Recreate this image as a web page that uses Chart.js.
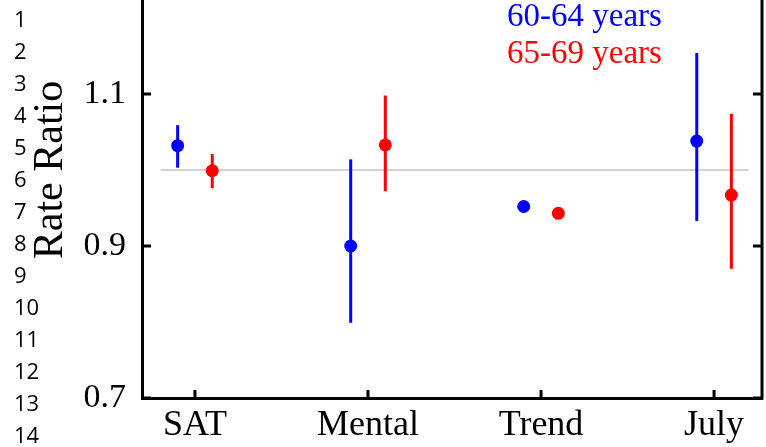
<!DOCTYPE html>
<html>
<head>
<meta charset="utf-8">
<script src="https://cdn.jsdelivr.net/npm/chart.js@4/dist/chart.umd.min.js"></script>
<style>
  html, body { margin: 0; padding: 0; background: #fff; }
  #wrap { position: relative; width: 766px; height: 447px; overflow: hidden; }
  #rr { position: absolute; left: 0; top: -58px; }
</style>
</head>
<body>
<div id="wrap"><canvas id="rr" width="766" height="505"></canvas></div>
<script>
// categories and groups
const categories = ['SAT', 'Mental', 'Trend', 'July'];
const groups = ['60-64 years', '65-69 years'];
const colors = ['#0000ff', '#ff0000'];

// rate ratios with their intervals
const rr6064 = [1.032, 0.900, 0.952, 1.038];
const lo6064 = [1.003, 0.799, null, 0.933];
const hi6064 = [1.059, 1.014, null, 1.154];

const rr6569 = [0.999, 1.033, 0.943, 0.967];
const lo6569 = [0.976, 0.972, null, 0.870];
const hi6569 = [1.021, 1.098, null, 1.074];

const yTicks = [0.7, 0.9, 1.1];
const refValue = 1.0;

// manuscript line numbers down the left margin
const lineNumbers = ['1','2','3','4','5','6','7','8','9','10','11','12','13','14'];

const serif = 'Liberation Serif';
const shift = 0.1; // dodge of each group from the category position

let series = [
  { rr: rr6064, lo: lo6064, hi: hi6064, off: -shift },
  { rr: rr6569, lo: lo6569, hi: hi6569, off: shift }
];

let datasets = [];

// reference line at 1
datasets.push({
  type: 'scatter',
  data: [{ x: 0.8, y: refValue }, { x: 4.2, y: refValue }],
  showLine: true,
  borderColor: '#c4c4c4',
  borderWidth: 1.5,
  pointRadius: 0,
  order: 3
});

series.forEach((s, g) => {
  // error bars
  categories.forEach((c, i) => {
    if (s.lo[i] == null) return;
    datasets.push({
      type: 'scatter',
      data: [{ x: i + 1 + s.off, y: s.lo[i] }, { x: i + 1 + s.off, y: s.hi[i] }],
      showLine: true,
      borderColor: colors[g],
      borderWidth: 3,
      borderCapStyle: 'butt',
      pointRadius: 0,
      order: 2
    });
  });
  // points
  datasets.push({
    type: 'scatter',
    label: groups[g],
    data: s.rr.map((v, i) => ({ x: i + 1 + s.off, y: v })),
    backgroundColor: colors[g],
    borderWidth: 0,
    pointRadius: 6.5,
    order: 1
  });
});

const frame = {
  id: 'frame',
  afterDraw(chart) {
    const ctx = chart.ctx;
    const a = chart.chartArea;
    const xs = chart.scales.x, ys = chart.scales.y;
    ctx.save();
    ctx.strokeStyle = '#000';
    ctx.lineWidth = 3;
    ctx.lineCap = 'butt';
    // right axis
    ctx.beginPath();
    ctx.moveTo(a.right, a.top);
    ctx.lineTo(a.right, a.bottom + 1.5);
    ctx.stroke();
    // inward ticks
    ctx.beginPath();
    yTicks.forEach(v => {
      let y = ys.getPixelForValue(v);
      ctx.moveTo(a.left, y); ctx.lineTo(a.left + 9, y);
      ctx.moveTo(a.right, y); ctx.lineTo(a.right - 9, y);
    });
    categories.forEach((c, i) => {
      let x = xs.getPixelForValue(i + 1);
      ctx.moveTo(x, a.bottom); ctx.lineTo(x, a.bottom - 8);
    });
    ctx.stroke();

    // group labels
    ctx.font = '33px "' + serif + '"';
    ctx.textAlign = 'left';
    ctx.textBaseline = 'alphabetic';
    groups.forEach((t, g) => {
      ctx.fillStyle = colors[g];
      ctx.fillText(t, 507, 84 + g * 37);
    });

    // line numbers
    ctx.fillStyle = '#000';
    ctx.font = '22px "Open Sans"';
    lineNumbers.forEach((n, i) => {
      ctx.fillText(n, 14, 58 + 27 + i * 32);
    });
    ctx.restore();
  }
};

new Chart(document.getElementById('rr'), {
  data: { datasets: datasets },
  options: {
    responsive: false,
    animation: false,
    events: [],
    layout: { padding: { left: 0, right: 4, top: 0, bottom: 0 }, autoPadding: false },
    plugins: { legend: { display: false }, tooltip: { enabled: false } },
    scales: {
      x: {
        type: 'linear',
        min: 0.694,
        max: 4.277,
        afterBuildTicks: s => { s.ticks = categories.map((c, i) => ({ value: i + 1 })); },
        afterFit: s => { s.height = 49; s.paddingLeft = 0; s.paddingRight = 0; },
        grid: { display: false, drawTicks: false },
        border: { display: true, color: '#000', width: 3 },
        ticks: {
          autoSkip: false,
          maxRotation: 0,
          padding: 6,
          color: '#000',
          font: { family: serif, size: 36 },
          callback: (v, i) => categories[i]
        }
      },
      y: {
        type: 'linear',
        min: 0.7,
        max: 1.3,
        afterBuildTicks: s => { s.ticks = yTicks.map(v => ({ value: v })); },
        afterFit: s => { s.width = 142; s.paddingTop = 0; s.paddingBottom = 0; },
        grid: { display: false, drawTicks: false },
        border: { display: true, color: '#000', width: 3 },
        ticks: {
          padding: 16,
          color: '#000',
          font: { family: serif, size: 34 },
          callback: v => v.toFixed(1)
        },
        title: {
          display: true,
          text: 'Rate Ratio',
          color: '#000',
          font: { family: serif, size: 42 },
          padding: { top: 26, bottom: 0 }
        }
      }
    }
  },
  plugins: [frame]
});
</script>
</body>
</html>
